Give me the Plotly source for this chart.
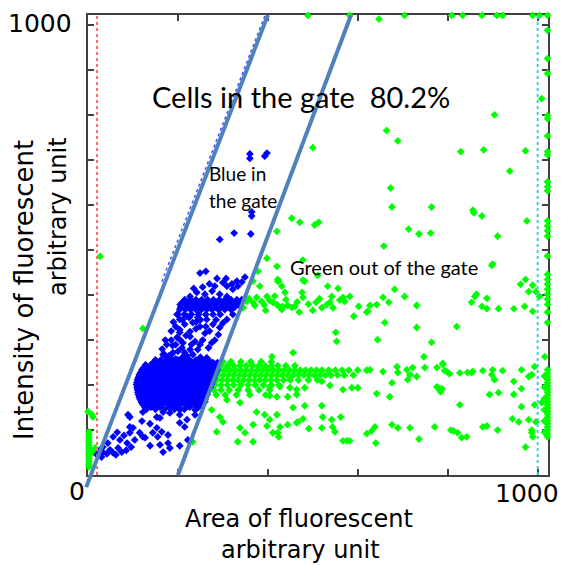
import plotly.graph_objects as go

AX_MAX = 1023  # 10-bit channel range

# ---------------- blue: cells inside the gate ----------------
# dense main cluster, rows of (y: [x values])
blue_core_rows = {
    268: [170, 185],
    256: [150, 162, 175, 188, 200, 213, 226, 240, 254, 268],
    250: [145, 157, 169, 181, 194, 206, 218, 230, 242, 254, 266, 278, 288],
    245: [128, 140, 152, 164, 176, 188, 200, 212, 224, 236, 248, 260, 272, 284],
    239: [124, 136, 148, 160, 172, 184, 196, 208, 220, 232, 244, 256, 268, 280],
    234: [120, 132, 144, 156, 168, 180, 192, 204, 216, 228, 240, 252, 264, 276, 287],
    228: [117, 129, 141, 153, 165, 177, 189, 201, 213, 225, 237, 249, 261, 273, 284],
    223: [114, 126, 138, 150, 162, 174, 186, 198, 210, 222, 234, 246, 258, 270, 282],
    217: [112, 124, 136, 148, 160, 172, 184, 196, 208, 220, 232, 244, 256, 268, 280],
    212: [110, 122, 134, 146, 158, 170, 182, 194, 206, 218, 230, 242, 254, 266, 278],
    206: [109, 121, 133, 145, 157, 169, 181, 193, 205, 217, 229, 241, 253, 265, 276],
    201: [108, 120, 132, 144, 156, 168, 180, 192, 204, 216, 228, 240, 252, 264, 274],
    195: [109, 121, 133, 145, 157, 169, 181, 193, 205, 217, 229, 241, 253, 265, 272],
    190: [110, 122, 134, 146, 158, 170, 182, 194, 206, 218, 230, 242, 254, 266],
    184: [111, 123, 135, 147, 159, 171, 183, 195, 207, 219, 231, 243, 255, 266],
    179: [112, 124, 136, 148, 160, 172, 184, 196, 208, 220, 232, 244, 256, 265],
    173: [114, 126, 138, 150, 162, 174, 186, 198, 210, 222, 234, 246, 258],
    168: [116, 128, 140, 152, 164, 176, 188, 200, 212, 224, 236, 250, 260],
    162: [119, 131, 143, 157, 171, 185, 199, 213, 229, 243, 256],
    157: [122, 136, 150, 164, 178, 192, 206, 222, 236, 250],
    151: [126, 140, 160, 180, 202, 226, 246],
    146: [130, 150, 170, 192, 214, 240],
}
# dense upper group
blue_upper_rows = {
    390: [215, 228, 240, 253, 266, 279, 292, 305, 318, 331, 342],
    384: [210, 222, 234, 247, 260, 273, 286, 299, 312, 325, 338],
    379: [205, 218, 231, 244, 257, 270, 283, 296, 309, 322, 335],
    373: [206, 220, 234, 246, 258, 270, 283, 297, 311, 326],
    368: [204, 216, 228, 240, 252, 264, 276, 290, 304, 318],
    357: [200, 214, 230, 246, 262, 278, 294],
}
blue_scatter = [
    # high isolated cells
    (360, 714), (360, 704), (393, 709), (398, 716), (364, 585), (364, 576),
    (293, 524), (325, 538), (362, 536),
    # above the upper group
    (227, 397), (242, 406), (260, 402), (276, 409), (293, 402), (309, 397),
    (322, 413), (333, 420), (342, 429), (282, 420), (309, 420), (287, 437),
    (307, 437), (331, 431), (349, 440), (249, 449), (262, 453), (235, 415),
    (255, 418), (270, 425), (300, 428), (320, 425),
    # middle band between the groups
    (204, 346), (220, 353), (233, 339), (244, 350), (264, 346), (278, 335),
    (293, 328), (204, 323), (227, 319), (249, 330), (215, 335), (198, 357),
    (309, 346), (322, 357), (198, 306), (204, 317), (211, 294), (227, 308),
    (238, 297), (244, 279), (264, 261), (275, 294), (227, 279), (215, 272),
    (209, 283), (167, 268), (153, 250), (175, 261), (189, 272), (249, 290),
    (185, 300), (195, 290), (200, 275), (210, 262), (220, 265), (230, 290),
    (255, 300), (260, 315), (270, 320), (285, 345), (240, 325), (250, 345),
    (195, 330), (185, 320), (175, 290), (180, 265), (195, 258), (165, 280),
    (172, 300), (188, 288), (205, 300), (218, 310), (233, 268), (250, 262),
    (268, 283), (282, 300), (290, 312), (300, 338), (262, 330), (240, 340),
    (225, 350), (210, 345), (190, 340),
    # below the main cluster
    (93, 129), (120, 120), (138, 114), (100, 105), (153, 105), (160, 127),
    (182, 138), (204, 134), (220, 123), (238, 134), (215, 107), (155, 85),
    (138, 65), (160, 67), (178, 71), (204, 65), (167, 51), (182, 60),
    (222, 78), (122, 140), (133, 152), (153, 129), (167, 140), (187, 150),
    (204, 145), (220, 152), (238, 145), (249, 156), (260, 163), (204, 116),
    (164, 96), (178, 89), (144, 94), (122, 85), (89, 134), (93, 107),
    # lower-left tail
    (56, 85), (71, 78), (44, 71), (33, 62), (27, 56), (49, 56), (67, 60),
    (87, 71), (93, 94), (56, 49), (33, 51), (75, 51), (104, 78), (115, 94),
    (127, 83), (20, 45), (30, 40), (42, 47), (62, 45), (85, 55), (96, 62),
    (80, 88), (65, 95),
]

# ---------------- green: cells outside the gate ----------------
green_band_rows = {
    252: [300, 318, 340, 362, 385, 408],
    243: [296, 310, 324, 338, 352, 366, 380, 394, 408, 422, 440, 460],
    233: [292, 304, 316, 328, 340, 352, 364, 376, 388, 400, 412, 424, 436, 448,
          460, 472, 484, 496, 508, 520, 535, 550, 565, 580, 600, 620],
    222: [288, 300, 312, 324, 336, 348, 360, 372, 384, 396, 408, 420, 432, 444,
          456, 468, 480, 492, 504, 516, 528, 540, 555, 570, 590],
    211: [286, 298, 310, 322, 334, 346, 358, 370, 382, 394, 406, 420, 435, 450,
          468, 490, 510],
    200: [282, 296, 310, 324, 340, 356, 372, 390, 408, 425],
    189: [280, 296, 314, 334, 356, 380, 404],
    178: [285, 305, 330, 360, 395],
}
green_scatter = [
    # near the left axis and left of the gate
    (0, 141), (11, 129), (9, 134), (16, 60), (20, 49), (11, 51), (27, 486),
    (122, 326),
    # below the green cluster
    (275, 145), (293, 129), (309, 167), (338, 161), (375, 140), (393, 134),
    (420, 174), (300, 118), (338, 105), (367, 112), (398, 109), (422, 94),
    (286, 96), (349, 94), (367, 74), (333, 74), (233, 74),
    (404, 196), (427, 196), (449, 194), (464, 190), (482, 194), (520, 208),
    (538, 199), (567, 190), (587, 194), (600, 194), (404, 176), (444, 174),
    (464, 179), (642, 181), (671, 174), (778, 194), (784, 185), (456, 150),
    (482, 154), (520, 154), (404, 123), (420, 134), (478, 125), (522, 129),
    (562, 129), (411, 94), (427, 107), (444, 112), (464, 116), (467, 118),
    (491, 103), (520, 105), (542, 123), (544, 107), (549, 96), (424, 85),
    (567, 76), (576, 76), (582, 76), (620, 92), (631, 98), (638, 107),
    (640, 71), (676, 112), (689, 105), (716, 105), (736, 80), (771, 107),
    (776, 196), (782, 190), (711, 212), (731, 219), (676, 205),
    # right part of the main band
    (627, 234), (656, 230), (687, 241), (689, 228), (709, 234), (716, 223),
    (722, 239), (749, 239), (776, 239), (793, 232), (789, 246), (798, 230),
    (804, 225), (827, 227), (844, 228), (853, 228), (856, 230), (878, 232),
    (900, 234), (898, 223), (904, 212), (922, 232), (947, 208), (964, 234),
    (964, 192), (980, 219), (987, 223), (993, 241), (913, 183), (893, 179),
    (947, 179), (787, 192), (827, 156), (993, 156), (1009, 161), (964, 152),
    (958, 118), (980, 123), (996, 118), (944, 125), (878, 107), (887, 109),
    (911, 100), (987, 100), (987, 94), (989, 85), (807, 100), (813, 98),
    (822, 94), (831, 83), (842, 85), (973, 62), (820, 330),
    # upper band
    (422, 431), (431, 420), (438, 406), (478, 433), (411, 384), (420, 379),
    (427, 373), (433, 375), (444, 377), (453, 373), (460, 375), (431, 368),
    (476, 406), (478, 395), (507, 384), (533, 420), (556, 415), (531, 379),
    (538, 384), (542, 397), (567, 395), (571, 386), (582, 397), (591, 353),
    (602, 375), (622, 364), (627, 377), (642, 379), (656, 395), (669, 384),
    (620, 362), (682, 413), (704, 397), (731, 377), (660, 339), (551, 317),
    (553, 297), (644, 301), (731, 328), (764, 295), (456, 272), (409, 263),
    (747, 263), (789, 248), (353, 386), (367, 384), (386, 386), (404, 388),
    (378, 453), (398, 482), (420, 464), (422, 435), (367, 431), (382, 420),
    (398, 397), (371, 377), (340, 380),
    (345, 372), (358, 392), (375, 395), (392, 378), (415, 398), (440, 390),
    (465, 385), (490, 380), (515, 392), (545, 372), (560, 389), (470, 362),
    (500, 366), (395, 366), (520, 372),
    (900, 469), (962, 424), (973, 435), (989, 422), (980, 408), (996, 408),
    (1004, 397), (860, 397), (864, 402), (853, 384), (887, 393), (876, 375),
    (887, 370), (913, 370), (947, 370), (971, 375), (989, 364),
    # sparse high cells
    (664, 766), (689, 743), (500, 728), (673, 638), (676, 596), (764, 596),
    (453, 571), (471, 562), (504, 556), (513, 562), (420, 542), (713, 547),
    (736, 536), (762, 538), (658, 509), (478, 478), (424, 431), (482, 431),
    (511, 444), (904, 801), (829, 719), (880, 723), (973, 721), (938, 676),
    (856, 589), (858, 583), (876, 576), (976, 565), (911, 531), (898, 466),
    (1009, 837), (1016, 263), (647, 1014),
]
green_right_edge_y = [85, 92, 100, 107, 114, 121, 128, 135, 142, 149, 156, 163,
                      170, 177, 184, 191, 198, 205, 212, 219, 226, 234, 339, 362,
                      379, 391, 402, 413, 424, 435, 446, 487, 531, 543, 554, 565,
                      632, 641, 652, 712, 719, 754, 792, 799, 893, 926, 989]
green_right_inner_y = [95, 120, 145, 170, 195, 220]
green_top_edge_x = [489, 582, 704, 809, 833, 876, 909, 922, 989, 1004, 1022]
green_left_edge_y = [18, 24, 30, 36, 42, 48, 54, 60, 66, 72, 78, 84, 90, 96]

# gate boundaries (data units) and marker lines
gate_lines = [((-4, -27), (400, 1023)), ((200, 0), (585, 1023))]
gate_dotted = ((164, 430), (394, 1023))
low_limit_x = 20
high_limit_x = 1000


def flatten_rows(rows):
    xs, ys = [], []
    for y, xlist in rows.items():
        for x in xlist:
            xs.append(x)
            ys.append(y)
    return xs, ys


bx, by = flatten_rows(blue_core_rows)
ux, uy = flatten_rows(blue_upper_rows)
bx += ux
by += uy
bx += [p[0] for p in blue_scatter]
by += [p[1] for p in blue_scatter]

gx, gy = flatten_rows(green_band_rows)
gx += [p[0] for p in green_scatter]
gy += [p[1] for p in green_scatter]
gx += [1022] * len(green_right_edge_y)
gy += green_right_edge_y
gx += [1015] * len(green_right_inner_y)
gy += green_right_inner_y
gx += green_top_edge_x
gy += [1022] * len(green_top_edge_x)
gx += [2] * len(green_left_edge_y)
gy += green_left_edge_y

fig = go.Figure()
fig.add_trace(go.Scatter(x=gx, y=gy, mode="markers", cliponaxis=False,
                         marker=dict(symbol="diamond", size=6, color="#00FF00",
                                     line=dict(width=0)),
                         showlegend=False, hoverinfo="skip"))
fig.add_trace(go.Scatter(x=bx, y=by, mode="markers", cliponaxis=False,
                         marker=dict(symbol="diamond", size=6, color="#0000FF",
                                     line=dict(width=0)),
                         showlegend=False, hoverinfo="skip"))

L, R, T, B = 88, 13, 15, 90
W, H = 561, 565
PW, PH = W - L - R, H - T - B


def dpx(v):
    return v / AX_MAX


shapes = []
for xv, col in ((low_limit_x, "#FF6A6A"), (high_limit_x, "#3CCFE0")):
    shapes.append(dict(type="line", xref="x", yref="y", x0=xv, x1=xv, y0=0, y1=AX_MAX,
                       line=dict(color=col, width=2, dash="dot")))
(a0, a1) = gate_dotted
shapes.append(dict(type="line", xref="paper", yref="paper",
                   x0=dpx(a0[0]), y0=dpx(a0[1]), x1=dpx(a1[0]), y1=dpx(a1[1]),
                   line=dict(color="#5050FF", width=1.5, dash="dot")))
for (p0, p1) in gate_lines:
    shapes.append(dict(type="line", xref="paper", yref="paper",
                       x0=dpx(p0[0]), y0=dpx(p0[1]), x1=dpx(p1[0]), y1=dpx(p1[1]),
                       line=dict(color="#4F81BD", width=4)))


def ax(px):
    return (px - L) / PW


def ay(py):
    return (H - B - py) / PH


def ann(text, px, py, size, family, xanchor="center", angle=0):
    return dict(text=text, x=ax(px), y=ay(py), xref="paper", yref="paper",
                showarrow=False, xanchor=xanchor, yanchor="middle", textangle=angle,
                font=dict(size=size, family=family, color="black"))


NUM_FONT = "DejaVu Sans"
TXT_FONT = "Lato"
annotations = [
    ann("1000", 40, 23, 25, NUM_FONT),
    ann("0", 77, 491, 25, NUM_FONT),
    ann("1000", 527, 493, 25, NUM_FONT),
    ann("Cells in the gate\u00a0\u00a080.2%", 150, 97, 29, TXT_FONT, "left"),
    ann("Blue in", 207, 173, 19, TXT_FONT, "left"),
    ann("the gate", 207, 200, 19, TXT_FONT, "left"),
    ann("Green out of the gate", 288, 267, 20, TXT_FONT, "left"),
    ann("Area of fluorescent", 299, 519, 24, NUM_FONT),
    ann("arbitrary unit", 300, 550, 24, NUM_FONT),
    ann("Intensity of fluorescent", 24, 290, 26, NUM_FONT, angle=-90),
    ann("arbitrary unit", 58, 217, 24, NUM_FONT, angle=-90),
]

axis_common = dict(range=[0, AX_MAX], showgrid=False, zeroline=False, showline=True,
                   linecolor="#404040", linewidth=2, mirror="ticks", ticks="inside",
                   ticklen=6, tickwidth=1.5, tickcolor="#404040",
                   showticklabels=False, tick0=0, layer="below traces")

fig.update_layout(
    width=W, height=H, autosize=False,
    margin=dict(l=L, r=R, t=T, b=B, pad=0),
    paper_bgcolor="white", plot_bgcolor="white",
    xaxis=dict(dtick=200, **axis_common),
    yaxis=dict(dtick=100, **axis_common),
    shapes=shapes, annotations=annotations,
)

fig.write_html("out.html")
